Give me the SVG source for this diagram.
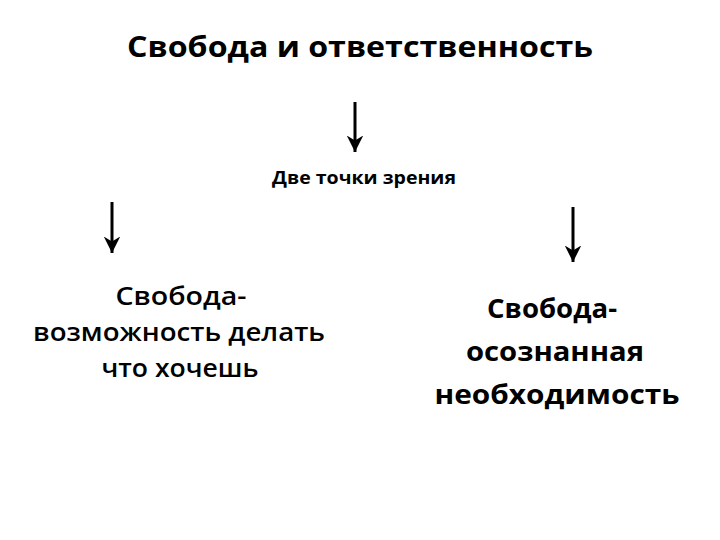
<svg xmlns="http://www.w3.org/2000/svg" width="720" height="540" viewBox="0 0 720 540">
<style>
text{font-family:"Open Sans","Noto Sans","Liberation Sans",sans-serif;fill:#000;text-anchor:middle}
.b{font-weight:bold}
.s{font-weight:600}
.c{stroke:#000;stroke-width:3;fill:none}
</style>
<defs>
<marker id="ah" viewBox="0 0 10 10" refX="10" refY="5" markerWidth="5.5" markerHeight="5.5" orient="auto" markerUnits="strokeWidth">
<path d="M0,0 L10,5 L0,10 L3,5 z" fill="#000"/>
</marker>
</defs>
<rect width="720" height="540" fill="#fff"/>
<g id="title"><text class="b" x="360" y="57" font-size="29" textLength="466" lengthAdjust="spacingAndGlyphs">Свобода и ответственность</text></g>
<g id="views"><text class="b" x="364" y="184" font-size="17" textLength="184" lengthAdjust="spacingAndGlyphs">Две точки зрения</text></g>
<g id="left">
<text class="s" x="181" y="305" font-size="25" textLength="131" lengthAdjust="spacingAndGlyphs">Свобода-</text>
<text class="s" x="179" y="341" font-size="25" textLength="292" lengthAdjust="spacingAndGlyphs">возможность делать</text>
<text class="s" x="180" y="377" font-size="25" textLength="157" lengthAdjust="spacingAndGlyphs">что хочешь</text>
</g>
<g id="right">
<text class="b" x="552" y="318" font-size="27" textLength="130" lengthAdjust="spacingAndGlyphs">Свобода-</text>
<text class="b" x="555" y="361" font-size="27" textLength="178" lengthAdjust="spacingAndGlyphs">осознанная</text>
<text class="b" x="557" y="404" font-size="27" textLength="245" lengthAdjust="spacingAndGlyphs">необходимость</text>
</g>
<g id="connectors">
<line class="c" x1="355" y1="102" x2="355" y2="152" marker-end="url(#ah)"/>
<line class="c" x1="112" y1="202" x2="112" y2="253" marker-end="url(#ah)"/>
<line class="c" x1="573" y1="207" x2="573" y2="262" marker-end="url(#ah)"/>
</g>
</svg>
